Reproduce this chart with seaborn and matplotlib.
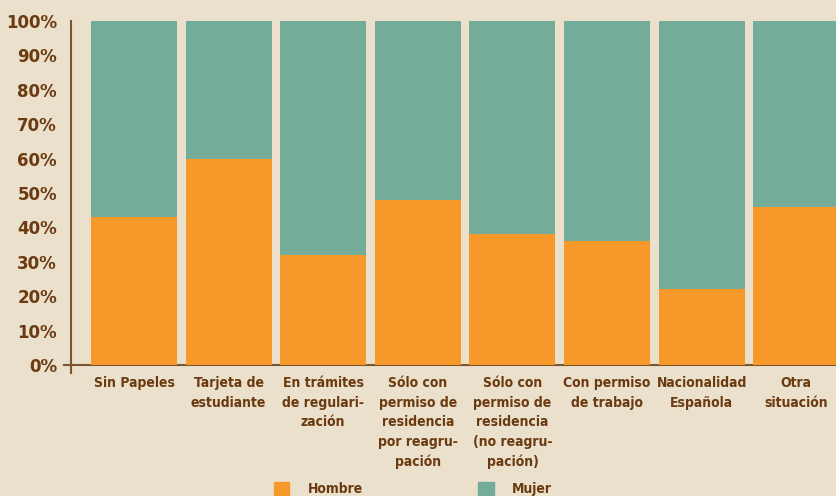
import pandas as pd
import matplotlib.pyplot as plt
import matplotlib.patches as mpatches
import seaborn as sns

##### Data ###################################################################

situaciones = ['Sin Papeles', 'Tarjeta de\nestudiante', 'En trámites\nde regulari-\nzación',
               'Sólo con\npermiso de\nresidencia\npor reagru-\npación',
               'Sólo con\npermiso de\nresidencia\n(no reagru-\npación)',
               'Con permiso\nde trabajo', 'Nacionalidad\nEspañola', 'Otra\nsituación']
hombre = [43, 60, 32, 48, 38, 36, 22, 46]
total = [100, 100, 100, 100, 100, 100, 100, 100]
ytick_labels = ['0%', '10%', '20%', '30%', '40%', '50%', '60%', '70%', '80%', '90%', '100%']

df = pd.DataFrame({'situacion': situaciones, 'hombre': hombre, 'total': total})

##### Style ##################################################################

bg = '#EAE0CB'
naranja = '#F7982A'
verde = '#73AD9A'
marron = '#6B3A10'
linea = '#7B5532'

sns.set_style('white')
plt.rcParams['font.family'] = ['DejaVu Sans']

fig = plt.figure(figsize=(8.36, 4.96), dpi=100, facecolor=bg)
ax = fig.add_axes([64 / 836, (496 - 372.5) / 496, 1 - 64 / 836, 351.5 / 496])
ax.set_facecolor(bg)

# stacked bars: total (Mujer) behind, Hombre in front
sns.barplot(x='situacion', y='total', data=df, color=verde, width=0.91,
            saturation=1, linewidth=0, ax=ax)
sns.barplot(x='situacion', y='hombre', data=df, color=naranja, width=0.91,
            saturation=1, linewidth=0, ax=ax)

ax.set_xlim(-0.74, 7.42)
ax.set_ylim(-2.2, 100)
ax.set_xlabel('')
ax.set_ylabel('')

for s in ['top', 'right']:
    ax.spines[s].set_visible(False)
ax.spines['left'].set_position(('data', -0.666))
ax.spines['bottom'].set_position(('data', 0))
for s in ['left', 'bottom']:
    ax.spines[s].set_color(linea)
    ax.spines[s].set_linewidth(1.5)
ax.spines['bottom'].set_zorder(0.5)

ax.set_yticks(range(0, 101, 10))
ax.set_yticklabels(ytick_labels, fontweight='bold', fontsize=12, color=marron)
ax.tick_params(axis='y', direction='in', length=6, width=1.3, color=linea, pad=10)
ax.tick_params(axis='x', length=0, pad=8)
for lbl in ax.get_xticklabels():
    lbl.set_fontweight('bold')
    lbl.set_fontstretch('condensed')
    lbl.set_fontsize(10)
    lbl.set_color(marron)
    lbl.set_linespacing(1.5)
    lbl.set_verticalalignment('top')

##### Legend #################################################################

handles = [mpatches.Patch(color=naranja, label='Hombre'),
           mpatches.Patch(color=verde, label='Mujer')]
leg = fig.legend(handles=handles, loc='upper left', bbox_to_anchor=(261 / 836, 27 / 496),
                 ncol=2, frameon=False, handlelength=1.15, handleheight=1.15,
                 handletextpad=1.3, columnspacing=8.3,
                 prop={'weight': 'bold', 'size': 10, 'stretch': 'condensed'})
for t in leg.get_texts():
    t.set_color(marron)

fig.savefig('out.png', dpi=100, facecolor=bg)
